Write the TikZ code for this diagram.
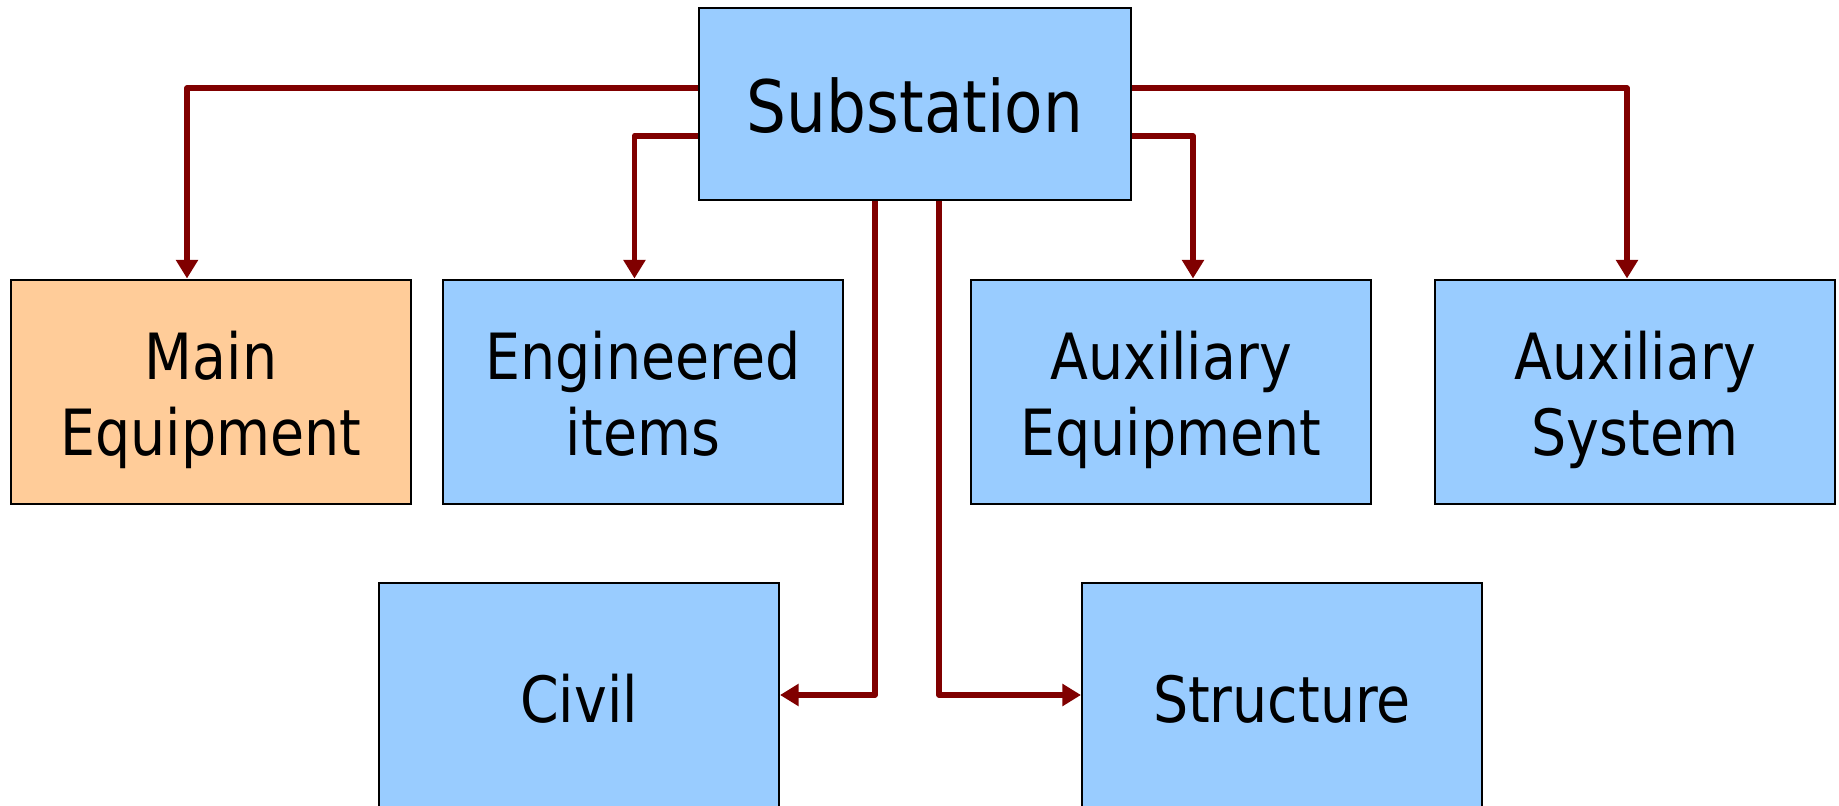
\documentclass[tikz,border=0pt]{standalone}
\usepackage{fontspec}
\setmainfont{DejaVu Sans}[FakeStretch=0.87]
\usetikzlibrary{arrows.meta}
\definecolor{boxblue}{HTML}{99CCFF}
\definecolor{boxorange}{HTML}{FFCC99}
\definecolor{linkred}{HTML}{800000}
\begin{document}
\begin{tikzpicture}[x=0.75pt,y=-0.75pt,
  box/.style={draw=black,line width=1.5pt,fill=boxblue,minimum width=300pt,
    minimum height=168pt,inner sep=0pt},
  rootbox/.style={box,minimum width=324pt,minimum height=144pt},
  txt/.style={inner sep=0pt,align=center,font=\fontsize{47.8}{57}\selectfont},
  roottxt/.style={txt,font=\fontsize{54.2}{60}\selectfont},
  conn/.style={draw=linkred,line width=4.3pt,line join=round,
    -{Triangle[width=16pt,length=14pt]}}]
\useasboundingbox (0,0) rectangle (1839,806);

% boxes
\node[rootbox] (sub) at (915,104) {};
\node[box,fill=boxorange] (main) at (211,391.5) {};
\node[box] (eng) at (643,391.5) {};
\node[box] (auxe) at (1171,391.5) {};
\node[box] (auxs) at (1635,391.5) {};
\node[box] (civil) at (579,695) {};
\node[box] (struct) at (1282,695) {};

% box texts (the phantom keeps the descender depth equal across boxes)
\node[roottxt] (subt) at ([yshift=-1.5pt]sub.center) {Substation};
\node[txt] (maint) at ([yshift=-6pt]main.center) {Main\\Equipment};
\node[txt] (engt) at ([yshift=-6pt]eng.center) {Engineered\\items\vphantom{p}};
\node[txt] (auxet) at ([yshift=-6pt]auxe.center) {Auxiliary\\Equipment};
\node[txt] (auxst) at ([yshift=-6pt]auxs.center) {Auxiliary\\System};
\node[txt] (civilt) at ([yshift=-3pt]civil.center) {Civil};
\node[txt] (structt) at ([yshift=-3pt]struct.center) {Structure};

% connectors
\draw[conn] ([yshift=12pt]sub.west) -| ([xshift=-18pt]main.north);
\draw[conn] ([yshift=-24pt]sub.west) -| ([xshift=-6.4pt]eng.north);
\draw[conn] ([yshift=-24pt]sub.east) -| ([xshift=16.5pt]auxe.north);
\draw[conn] ([yshift=12pt]sub.east) -| ([xshift=-6pt]auxs.north);
\draw[conn] ([xshift=-30pt]sub.south) |- (civil.east);
\draw[conn] ([xshift=18pt]sub.south) |- (struct.west);
\end{tikzpicture}
\end{document}
